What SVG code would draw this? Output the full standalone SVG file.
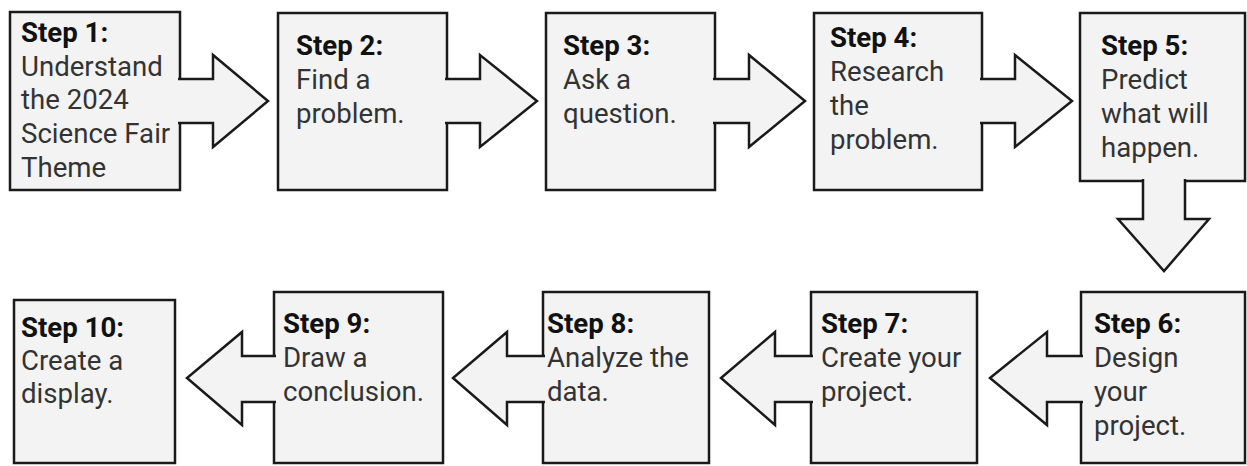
<svg xmlns="http://www.w3.org/2000/svg" width="1247" height="466" viewBox="0 0 1247 466">
<style>
.box{fill:#f3f3f3;stroke:#1a1a1a;stroke-width:2.5}
.arr{fill:#f3f3f3;stroke:#1a1a1a;stroke-width:2.5;stroke-linejoin:miter}
text{font-family:Roboto,"Liberation Sans",sans-serif;font-size:27.6px;fill:#333}
.h{font-weight:bold;fill:#111}
</style>
<rect width="1247" height="466" fill="#fff"/>
<g id="node1"><rect class="box" x="10" y="12" width="170" height="178"/>
<text x="21" y="42"><tspan class="h">Step 1:</tspan><tspan x="21" y="75.5">Understand</tspan><tspan x="21" y="109">the 2024</tspan><tspan x="21" y="143">Science Fair</tspan><tspan x="21" y="176.5">Theme</tspan></text></g>
<g id="node2"><rect class="box" x="278" y="13" width="169" height="177"/>
<text x="296" y="55"><tspan class="h">Step 2:</tspan><tspan x="296" y="89">Find a</tspan><tspan x="296" y="123">problem.</tspan></text></g>
<g id="node3"><rect class="box" x="546" y="13" width="169" height="177"/>
<text x="563" y="55"><tspan class="h">Step 3:</tspan><tspan x="563" y="89">Ask a</tspan><tspan x="563" y="123">question.</tspan></text></g>
<g id="node4"><rect class="box" x="814" y="13" width="168" height="177"/>
<text x="830" y="47"><tspan class="h">Step 4:</tspan><tspan x="830" y="81">Research</tspan><tspan x="830" y="115">the</tspan><tspan x="830" y="149">problem.</tspan></text></g>
<g id="node5"><rect class="box" x="1080" y="13" width="165" height="168"/>
<text x="1101" y="55"><tspan class="h">Step 5:</tspan><tspan x="1101" y="89">Predict</tspan><tspan x="1101" y="123">what will</tspan><tspan x="1101" y="157">happen.</tspan></text></g>
<g id="node6"><rect class="box" x="1081" y="292" width="164" height="171"/>
<text x="1094" y="333"><tspan class="h">Step 6:</tspan><tspan x="1094" y="367">Design</tspan><tspan x="1094" y="401">your</tspan><tspan x="1094" y="435">project.</tspan></text></g>
<g id="node7"><rect class="box" x="811" y="292" width="166" height="171"/>
<text x="821" y="333"><tspan class="h">Step 7:</tspan><tspan x="821" y="367">Create your</tspan><tspan x="821" y="401">project.</tspan></text></g>
<g id="node8"><rect class="box" x="543" y="292" width="166" height="171"/>
<text x="547" y="333"><tspan class="h">Step 8:</tspan><tspan x="547" y="367">Analyze the</tspan><tspan x="547" y="401">data.</tspan></text></g>
<g id="node9"><rect class="box" x="274" y="292" width="169" height="171"/>
<text x="283" y="333"><tspan class="h">Step 9:</tspan><tspan x="283" y="367">Draw a</tspan><tspan x="283" y="401">conclusion.</tspan></text></g>
<g id="node10"><rect class="box" x="14" y="300" width="161" height="163"/>
<text x="21" y="337"><tspan class="h">Step 10:</tspan><tspan x="21" y="370">Create a</tspan><tspan x="21" y="403">display.</tspan></text></g>
<g id="connectors">
<path class="arr" d="M178,79 H213 V55 L268,101 L213,147 V123 H178"/>
<path class="arr" d="M445,79 H480 V55 L537,101 L480,147 V123 H445"/>
<path class="arr" d="M713,79 H749 V55 L805,101 L749,147 V123 H713"/>
<path class="arr" d="M980,79 H1015 V55 L1072,101 L1015,147 V123 H980"/>
<path class="arr" d="M1143,179 V219 H1118 L1164,271 L1209,219 H1185 V179"/>
<path class="arr" d="M1083,356 H1047 V332 L990,378 L1047,425 V402 H1083"/>
<path class="arr" d="M813,356 H775 V332 L721,378 L775,425 V402 H813"/>
<path class="arr" d="M545,356 H507 V332 L453,378 L507,425 V402 H545"/>
<path class="arr" d="M276,356 H242 V332 L187,378 L242,425 V402 H276"/>
</g>
</svg>
